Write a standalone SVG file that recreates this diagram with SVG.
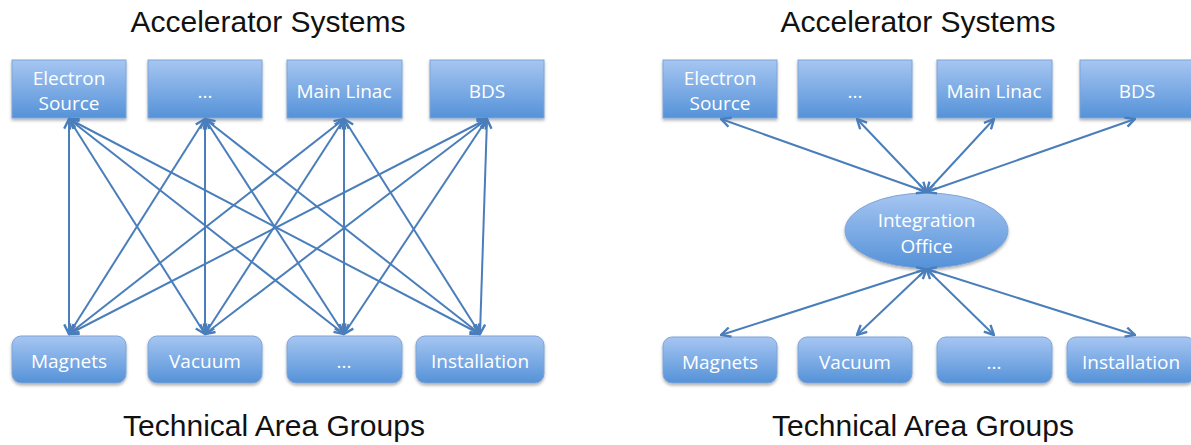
<svg xmlns="http://www.w3.org/2000/svg" width="1191" height="445" viewBox="0 0 1191 445">
<style>
.title{font-family:"Liberation Sans",Arial,sans-serif;font-size:30px;fill:#111;text-anchor:middle}
.lbl{font-family:"Open Sans","Liberation Sans",sans-serif;font-size:19px;fill:#fff;text-anchor:middle}
.box{fill:url(#g);stroke:#7ea4d6;stroke-width:1;filter:url(#sh)}
.c line,.c path{stroke:#4a7ebb;stroke-width:2;fill:none;marker-start:url(#ah);marker-end:url(#ah)}
</style>
<defs>
<linearGradient id="g" x1="0" y1="0" x2="0" y2="1">
<stop offset="0" stop-color="#a6c6f2"/>
<stop offset="1" stop-color="#5592d8"/>
</linearGradient>
<filter id="sh" x="-10%" y="-10%" width="120%" height="140%">
<feDropShadow dx="0" dy="2" stdDeviation="1.5" flood-color="#000" flood-opacity="0.3"/>
</filter>
<marker id="ah" viewBox="0 0 10 10" refX="9" refY="5" markerWidth="6" markerHeight="6" orient="auto-start-reverse" markerUnits="strokeWidth">
<path d="M1,1 L9,5 L1,9" fill="none" stroke="#4a7ebb" stroke-width="2"/>
</marker>
</defs>
<rect width="1191" height="445" fill="#fff"/>

<text class="title" x="268" y="32">Accelerator Systems</text>
<text class="title" x="274" y="436">Technical Area Groups</text>
<text class="title" x="918" y="32">Accelerator Systems</text>
<text class="title" x="923" y="436">Technical Area Groups</text>

<!-- left panel nodes -->
<g id="L-electron"><rect class="box" x="12" y="60" width="114" height="58"/><text class="lbl" x="69" y="85">Electron</text><text class="lbl" x="69" y="110">Source</text></g>
<g id="L-dots-top"><rect class="box" x="148" y="60" width="114" height="58"/><text class="lbl" x="205" y="98">...</text></g>
<g id="L-mainlinac"><rect class="box" x="287" y="60" width="115" height="58"/><text class="lbl" x="344" y="98">Main Linac</text></g>
<g id="L-bds"><rect class="box" x="430" y="60" width="114" height="58"/><text class="lbl" x="487" y="98">BDS</text></g>
<g id="L-magnets"><rect class="box" x="12" y="336" width="114" height="47" rx="9"/><text class="lbl" x="69" y="368">Magnets</text></g>
<g id="L-vacuum"><rect class="box" x="148" y="336" width="114" height="47" rx="9"/><text class="lbl" x="205" y="368">Vacuum</text></g>
<g id="L-dots-bot"><rect class="box" x="287" y="336" width="115" height="47" rx="9"/><text class="lbl" x="344" y="368">...</text></g>
<g id="L-install"><rect class="box" x="416" y="336" width="128" height="47" rx="9"/><text class="lbl" x="480" y="368">Installation</text></g>

<!-- right panel nodes -->
<g id="R-electron"><rect class="box" x="663" y="60" width="114" height="58"/><text class="lbl" x="720" y="85">Electron</text><text class="lbl" x="720" y="110">Source</text></g>
<g id="R-dots-top"><rect class="box" x="798" y="60" width="114" height="58"/><text class="lbl" x="855" y="98">...</text></g>
<g id="R-mainlinac"><rect class="box" x="937" y="60" width="115" height="58"/><text class="lbl" x="994" y="98">Main Linac</text></g>
<g id="R-bds"><rect class="box" x="1080" y="60" width="114" height="58"/><text class="lbl" x="1137" y="98">BDS</text></g>
<g id="R-office"><ellipse class="box" cx="926.5" cy="230.5" rx="81.5" ry="37.5"/><text class="lbl" x="926.5" y="227">Integration</text><text class="lbl" x="926.5" y="253">Office</text></g>
<g id="R-magnets"><rect class="box" x="663" y="337" width="114" height="46" rx="9"/><text class="lbl" x="720" y="369">Magnets</text></g>
<g id="R-vacuum"><rect class="box" x="798" y="337" width="114" height="46" rx="9"/><text class="lbl" x="855" y="369">Vacuum</text></g>
<g id="R-dots-bot"><rect class="box" x="937" y="337" width="115" height="46" rx="9"/><text class="lbl" x="994" y="369">...</text></g>
<g id="R-install"><rect class="box" x="1067" y="337" width="128" height="46" rx="9"/><text class="lbl" x="1131" y="369">Installation</text></g>

<!-- connectors -->
<g id="connectors" class="c">
<line x1="69" y1="119" x2="69" y2="334"/>
<line x1="69" y1="119" x2="205" y2="334"/>
<line x1="69" y1="119" x2="344" y2="334"/>
<line x1="69" y1="119" x2="480" y2="334"/>
<line x1="205" y1="119" x2="69" y2="334"/>
<line x1="205" y1="119" x2="205" y2="334"/>
<line x1="205" y1="119" x2="344" y2="334"/>
<line x1="205" y1="119" x2="480" y2="334"/>
<line x1="344" y1="119" x2="69" y2="334"/>
<line x1="344" y1="119" x2="205" y2="334"/>
<line x1="344" y1="119" x2="344" y2="334"/>
<line x1="344" y1="119" x2="480" y2="334"/>
<line x1="487" y1="119" x2="69" y2="334"/>
<line x1="487" y1="119" x2="205" y2="334"/>
<line x1="487" y1="119" x2="344" y2="334"/>
<line x1="487" y1="119" x2="480" y2="334"/>

<line x1="926.5" y1="192" x2="721" y2="119"/>
<line x1="926.5" y1="192" x2="857" y2="119"/>
<line x1="926.5" y1="192" x2="994" y2="119"/>
<line x1="926.5" y1="192" x2="1135" y2="119"/>
<line x1="926.5" y1="269" x2="721" y2="335"/>
<line x1="926.5" y1="269" x2="857" y2="335"/>
<line x1="926.5" y1="269" x2="994" y2="335"/>
<line x1="926.5" y1="269" x2="1135" y2="335"/>
</g>
</svg>
